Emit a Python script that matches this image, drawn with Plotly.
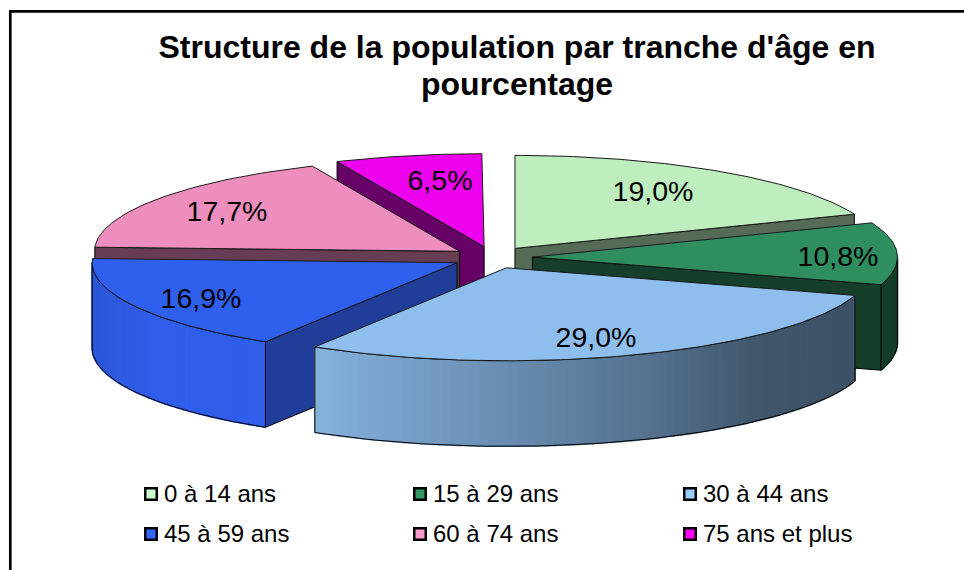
import numpy as np
import plotly.graph_objects as go

categories = ["0 à 14 ans", "15 à 29 ans", "30 à 44 ans", "45 à 59 ans", "60 à 74 ans", "75 ans et plus"]
values = [19.0, 10.8, 29.0, 16.9, 17.7, 6.5]
colors = ["#CCFFCC", "#339966", "#99CCFF", "#3366FF", "#FF99CC", "#FF00FF"]
title_lines = ["Structure de la population par tranche d'âge en", "pourcentage"]

# Projection of the tilted pie, in page pixels
CX, CY, RX, RY, DEPTH = 492.5, 257.5, 365.0, 93.0, 85.5
EXPLODE_X, EXPLODE_Y = 40.0, 11.0
TOP_SHADE = 0.93
SIDE_SHADE = [0.42, 0.41, 0.42, 0.60, 0.40, 0.40]
DRAW_ORDER = [5, 4, 0, 1, 3, 2]
LABEL_POS = [(653, 194), (838, 259), (596, 340), (201, 301), (227, 214), (440, 183)]
LEGEND_X = [151, 420, 690]
LEGEND_Y = [494, 534]


def rgb(hex_color, k):
    return "rgb(%d,%d,%d)" % tuple(round(int(hex_color[i:i + 2], 16) * k) for i in (1, 3, 5))


def wall_light(x):
    return float(np.interp(x, [92, 150, 264, 313, 644, 760, 855, 900],
                           [0.84, 0.92, 0.92, 0.87, 0.56, 0.42, 0.40, 0.40]))


# The printed labels add up to 100.9, the last slice closes the circle
ends = np.minimum(np.cumsum(values) * 3.6, 360.0)
starts = np.concatenate([[0.0], ends[:-1]])

fig = go.Figure()


def poly(xs, ys, fill=None, line=None, width=1.0):
    fig.add_trace(go.Scatter(
        x=list(xs), y=list(ys), mode="lines", hoverinfo="skip", showlegend=False,
        fill="toself" if fill else None, fillcolor=fill,
        line=dict(color=line or "rgba(0,0,0,0)", width=width if line else 0),
    ))


for i in DRAW_ORDER:
    a0, a1 = starts[i], ends[i]
    mid = np.radians((a0 + a1) / 2)
    ax = CX + EXPLODE_X * np.sin(mid)
    ay = CY - EXPLODE_Y * np.cos(mid)
    px = lambda t: ax + RX * np.sin(np.radians(t))
    py = lambda t: ay - RY * np.cos(np.radians(t))
    side = rgb(colors[i], SIDE_SHADE[i])

    # radial walls that face the viewer
    for a, seen in ((a0, np.sin(np.radians(a0)) < 0), (a1, np.sin(np.radians(a1)) > 0)):
        if seen:
            x, y = px(a), py(a)
            poly([ax, x, x, ax, ax], [ay, y, y + DEPTH, ay + DEPTH, ay], side, "#000000")

    # outer wall, front half of the rim only
    lo, hi = max(a0, 90.0), min(a1, 270.0)
    if lo < hi:
        t = np.linspace(lo, hi, max(int((hi - lo) / 1.5), 2) + 1)
        for t0, t1 in zip(t[:-1], t[1:]):
            xm = px((t0 + t1) / 2)
            c = rgb(colors[i], wall_light(xm))
            poly([px(t0), px(t1), px(t1), px(t0), px(t0)],
                 [py(t0), py(t1), py(t1) + DEPTH, py(t0) + DEPTH, py(t0)], c, c, 1.5)
        xs = np.concatenate([px(t), px(t[::-1]), [px(t[0])]])
        ys = np.concatenate([py(t), py(t[::-1]) + DEPTH, [py(t[0])]])
        poly(xs, ys, None, "#000000")

    # top face
    t = np.linspace(a0, a1, max(int(a1 - a0), 2) + 1)
    poly(np.concatenate([[ax], px(t), [ax]]), np.concatenate([[ay], py(t), [ay]]),
         rgb(colors[i], TOP_SHADE), "#1a1a1a")

# percentage labels
fig.add_trace(go.Scatter(
    x=[p[0] for p in LABEL_POS], y=[p[1] for p in LABEL_POS], mode="text",
    text=[f"{v:.1f}%".replace(".", ",") for v in values], textposition="middle center",
    textfont=dict(family="Liberation Sans", size=28.5, color="#000000"),
    hoverinfo="skip", showlegend=False,
))

# legend, two rows of three
for i, name in enumerate(categories):
    x, y = LEGEND_X[i % 3], LEGEND_Y[i // 3]
    fig.add_trace(go.Scatter(
        x=[x], y=[y], mode="markers", name=name, showlegend=False,
        marker=dict(symbol="square", size=11.5, color=colors[i], line=dict(color="#000000", width=2.5)),
    ))
    fig.add_annotation(x=x + 11, y=y - 1, text=name, showarrow=False, xanchor="left", yanchor="middle",
                       font=dict(family="Liberation Sans", size=24, color="#000000"))

# base size sets the line spacing, the span sets the glyph size
title_text = "<br>".join(f'<span style="font-size:32px">{s}</span>' for s in title_lines)

fig.update_layout(
    width=964, height=570, autosize=False,
    margin=dict(l=0, r=0, t=0, b=0),
    paper_bgcolor="#FFFFFF", plot_bgcolor="#FFFFFF",
    title=dict(text=title_text, x=517 / 964, xanchor="center", y=1 - 58 / 570, yanchor="top",
               font=dict(family="Liberation Sans", size=28.5, color="#000000", weight="bold")),
    xaxis=dict(range=[0, 964], visible=False, fixedrange=True),
    yaxis=dict(range=[570, 0], visible=False, fixedrange=True),
    shapes=[dict(type="path", path="M 10.3 572 L 10.3 11.3 L 966 11.3", line=dict(color="#000000", width=2.7),
                 layer="above")],
)

fig.write_html("out.html", config={"displayModeBar": False},
               post_script="document.body.style.margin='0';document.documentElement.style.overflow='hidden';")
